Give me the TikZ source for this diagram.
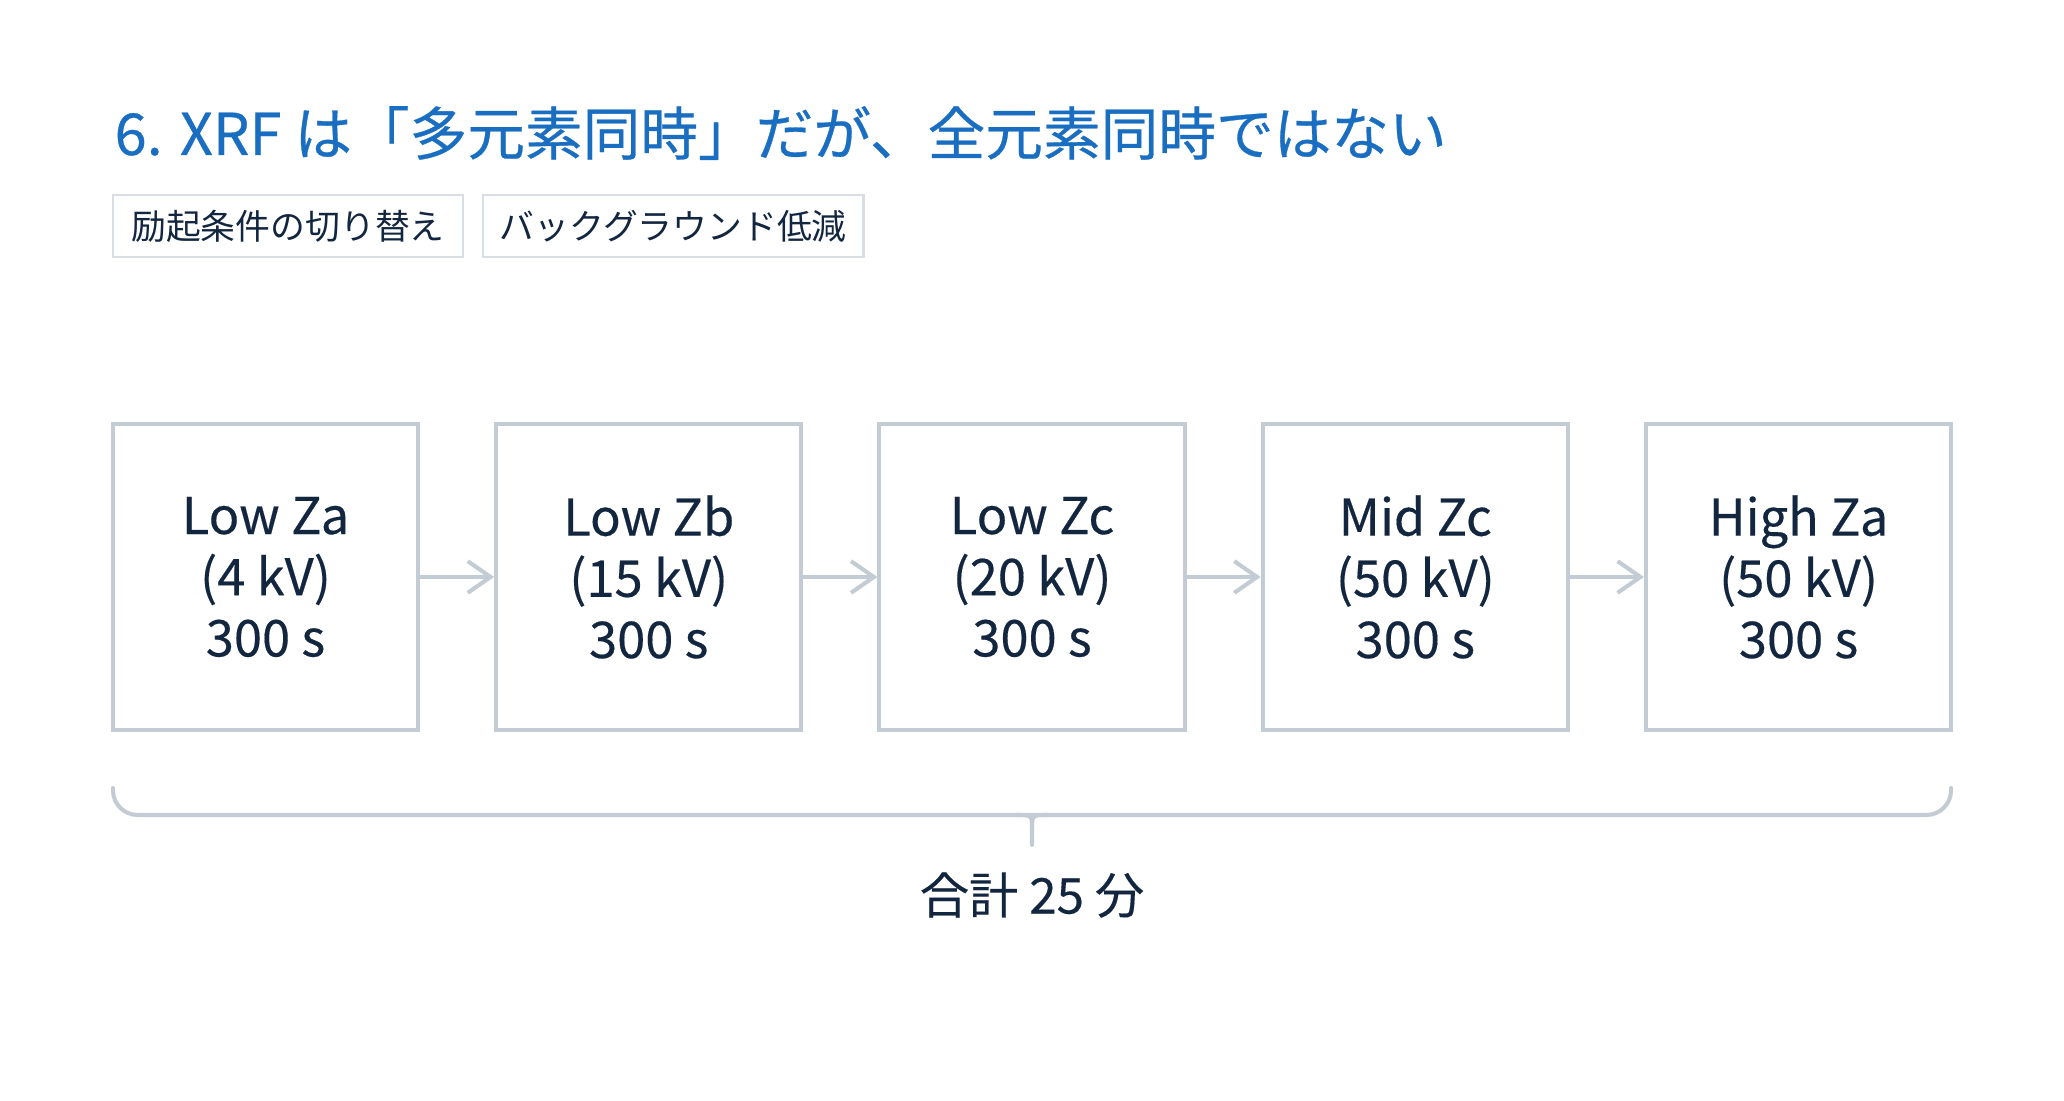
\documentclass[tikz,border=0pt]{standalone}
\usepackage{fontspec}
\usepackage{xcolor}
\usepackage{tikz}
\usetikzlibrary{positioning,arrows.meta}
\setmainfont{Noto Sans CJK JP}

\definecolor{titleblue}{HTML}{1A6EC1}
\definecolor{inkdark}{HTML}{13263F}
\definecolor{framegray}{HTML}{C3CCD5}
\definecolor{taggray}{HTML}{D8DDE3}

\begin{document}
\begin{tikzpicture}[x=0.01cm, y=-0.01cm,
		stepbox/.style={
				rectangle, draw=framegray, line width=1.15pt, fill=white, text=inkdark,
				minimum width=3.05cm, minimum height=3.06cm, align=center,
				font=\fontsize{14.4pt}{17.4pt}\selectfont\addfontfeature{FakeBold=0.3}
			},
		tagbox/.style={
				rectangle, draw=taggray, line width=0.6pt, fill=white, text=inkdark,
				minimum height=0.62cm, font=\fontsize{9.9pt}{11pt}\selectfont
			},
		flow/.style={draw=framegray, line width=1.15pt, -{Straight Barb[length=6.5pt, width=9pt]}},
		bracket/.style={draw=framegray, line width=1.15pt, line cap=round}
	]
		\useasboundingbox[fill=white] (0,0) rectangle (2064,1101);

		% title and tags
		\node[anchor=base west, inner sep=0pt, text=titleblue,
			font=\fontsize{16.4pt}{20pt}\selectfont\addfontfeature{FakeBold=0.5}]
		(Title) at (114,155) {6. XRF は「多元素同時」だが、全元素同時ではない};

		\node[tagbox, minimum width=3.5cm] (T1) at (288,226) {励起条件の切り替え};
		\node[tagbox, minimum width=3.8cm, right=0.18cm of T1] (T2) {バックグラウンド低減};

		% measuring steps
		\node[stepbox] (B1) at (265.5,577) {Low Za\\(4 kV)\\300 s};
		\node[stepbox, right=0.74cm of B1] (B2) {Low Zb\\(15 kV)\\300 s};
		\node[stepbox, right=0.74cm of B2] (B3) {Low Zc\\(20 kV)\\300 s};
		\node[stepbox, right=0.74cm of B3] (B4) {Mid Zc\\(50 kV)\\300 s};
		\node[stepbox, right=0.74cm of B4] (B5) {High Za\\(50 kV)\\300 s};

		\foreach \a/\b in {B1/B2,B2/B3,B3/B4,B4/B5}
			\draw[flow] (\a) -- (\b);

		% total
		\coordinate (BrL) at (113,788);
		\coordinate (BrR) at (1951,788);
		\draw[bracket, rounded corners=7] (BrL) -- (113,815) -- (1951,815) -- (BrR);
		\draw[bracket] (1016,815) .. controls (1032,815) .. (1032,829) -- (1032,845);
		\draw[bracket] (1048,815) .. controls (1032,815) .. (1032,829);

		\node[text=inkdark, font=\fontsize{14pt}{17pt}\selectfont\addfontfeature{FakeBold=0.3}]
		(Total) at (1032,895) {合計 25 分};
	\end{tikzpicture}
\end{document}
